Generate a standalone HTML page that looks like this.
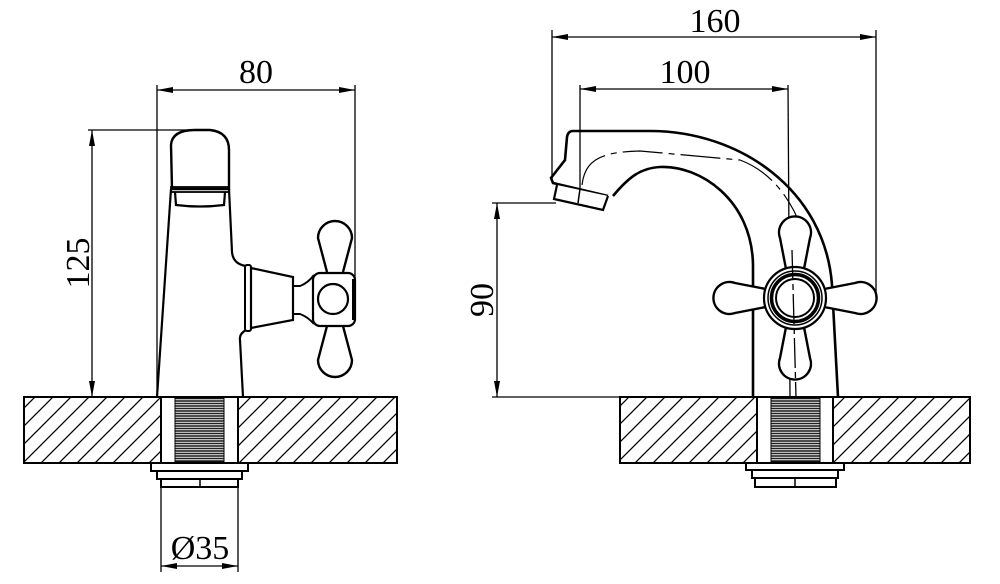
<!DOCTYPE html>
<html><head><meta charset="utf-8"><style>
html,body{margin:0;padding:0;background:#fff;}
svg{display:block;}
text{font-family:"Liberation Serif",serif;font-size:34px;fill:#000;}
</style></head><body>
<svg width="1000" height="584" viewBox="0 0 1000 584" xmlns="http://www.w3.org/2000/svg">
<defs>
<pattern id="h" patternUnits="userSpaceOnUse" width="18" height="18">
<path d="M-1,19 L19,-1 M-1,1 L1,-1 M17,19 L19,17" stroke="#000" stroke-width="1.3"/>
</pattern>
<pattern id="t" patternUnits="userSpaceOnUse" width="10" height="2.5">
<rect width="10" height="2.5" fill="#fff"/>
<line x1="0" y1="1" x2="10" y2="1" stroke="#222" stroke-width="1.6"/>
</pattern>
<marker id="a" viewBox="0 0 16 6" refX="16" refY="3" markerWidth="16" markerHeight="6" markerUnits="userSpaceOnUse" orient="auto-start-reverse">
<path d="M0,0 L16,3 L0,6 Z" fill="#000"/>
</marker>
<g id="blade">
<path d="M0,-8 L36,-15 A16 16 0 1 1 36,15 L0,8" fill="#fff" stroke="#000" stroke-width="2.4"/>
</g>
</defs>

<g fill="none" stroke="#000">
<rect x="24" y="397" width="137" height="66" fill="url(#h)" stroke-width="2"/>
<rect x="238" y="397" width="159" height="66" fill="url(#h)" stroke-width="2"/>
<rect x="161" y="397" width="77" height="66" fill="#fff" stroke-width="2"/>
<rect x="175" y="398" width="49" height="64" fill="url(#t)" stroke="#000" stroke-width="1"/>
<rect x="151" y="463" width="97" height="8" stroke-width="2" fill="#fff"/>
<rect x="157" y="471" width="85" height="8" stroke-width="2" fill="#fff"/>
<rect x="161" y="479" width="77" height="8" stroke-width="2" fill="#fff"/>
<line x1="200" y1="479" x2="200" y2="487" stroke-width="1.5"/>
<path d="M157,397 L171,189" stroke-width="2.2"/>
<path d="M229,189 L232,252 Q233,264 246,266" stroke-width="2.2"/>
<path d="M246,330 Q239,334 240,340 L243,397" stroke-width="2.2"/>
<path d="M172,189 L171,145 Q172,130 195,130 L210,130 Q229,132 229,150 L229,189 Z" stroke-width="2.4" fill="#fff"/>
<rect x="171" y="187" width="58" height="5" stroke-width="1.8"/>
<path d="M175,192 L176,205 Q200,208 224,205 L225,192" stroke-width="2.2"/>
<rect x="245" y="265" width="6" height="66" rx="2" stroke-width="2" fill="#fff"/>
<path d="M251,268 L293,277 L293,320 L251,328 Z" stroke-width="2.2" fill="#fff"/>
<path d="M293,286 L300,286 Q308,283 314,275 M293,314 L300,314 Q308,317 314,324" stroke-width="2"/>
<path d="M327,272 L318,238 A17 17 0 1 1 352,238 L343,272" stroke-width="2.4" fill="#fff"/>
<path d="M327,326 L318,360 A17 17 0 1 0 352,360 L343,326" stroke-width="2.4" fill="#fff"/>
<rect x="313" y="273" width="42" height="53" rx="7" stroke-width="2.2" fill="#fff"/>
<line x1="354" y1="279" x2="354" y2="320" stroke-width="4"/>
<circle cx="333" cy="299" r="15" stroke-width="2.2"/>
<line x1="157" y1="85" x2="157" y2="397" stroke-width="1.3"/>
<line x1="355" y1="85" x2="355" y2="292" stroke-width="1.3"/>
<line x1="157" y1="90" x2="355" y2="90" stroke-width="1.3" marker-start="url(#a)" marker-end="url(#a)"/>
<line x1="88" y1="130" x2="200" y2="130" stroke-width="1.3"/>
<line x1="92" y1="130" x2="92" y2="397" stroke-width="1.3" marker-start="url(#a)" marker-end="url(#a)"/>
<line x1="161" y1="487" x2="161" y2="572" stroke-width="1.3"/>
<line x1="238" y1="487" x2="238" y2="572" stroke-width="1.3"/>
<line x1="161" y1="566" x2="238" y2="566" stroke-width="1.3" marker-start="url(#a)" marker-end="url(#a)"/>

<rect x="620" y="397" width="137" height="66" fill="url(#h)" stroke-width="2"/>
<rect x="833" y="397" width="137" height="66" fill="url(#h)" stroke-width="2"/>
<rect x="757" y="397" width="76" height="66" fill="#fff" stroke-width="2"/>
<rect x="771" y="398" width="49" height="64" fill="url(#t)" stroke="#000" stroke-width="1"/>
<rect x="746" y="463" width="98" height="7" stroke-width="2" fill="#fff"/>
<rect x="752" y="470" width="86" height="8" stroke-width="2" fill="#fff"/>
<rect x="755" y="478" width="81" height="9" stroke-width="2" fill="#fff"/>
<line x1="795" y1="478" x2="795" y2="487" stroke-width="1.5"/>
<path d="M753,397 L753,265 C752,200 700,165 660,167 C640,168 628,178 613,196" stroke-width="2.6"/>
<path d="M838,397 L832,285 C825,190 740,131 650,131 L573,131 Q568,131 567,137 L565,160 L551,178 L553,183 L608,196" stroke-width="2.6"/>
<path d="M557,185 L554,199 L603,210 L608,196" stroke-width="2.2" fill="#fff"/>
<line x1="580" y1="189" x2="578" y2="203" stroke-width="1.5"/>
<path d="M582,185 C585,160 600,152 640,151 L740,160 C780,175 800,215 808,250" stroke-width="1.2" stroke-dasharray="40 6 6 6"/>
<line x1="788" y1="85" x2="790" y2="397" stroke-width="1.3"/>
<g transform="translate(795,298)">
<use href="#blade" transform="rotate(-90) translate(24,0)"/>
<use href="#blade" transform="rotate(90) translate(24,0)"/>
<use href="#blade" transform="rotate(180) translate(24,0)"/>
<use href="#blade" transform="translate(24,0)"/>
<circle r="31" stroke-width="2.2" fill="#fff"/>
<circle r="27" stroke-width="1.5"/>
<circle r="23.5" stroke-width="3.5"/>
<circle r="19" stroke-width="2"/>
</g>
<line x1="792" y1="250" x2="796" y2="397" stroke-width="1.3" stroke-dasharray="30 4 6 4"/>
<line x1="552" y1="30" x2="552" y2="180" stroke-width="1.3"/>
<line x1="876" y1="30" x2="876" y2="297" stroke-width="1.3"/>
<line x1="552" y1="37" x2="876" y2="37" stroke-width="1.3" marker-start="url(#a)" marker-end="url(#a)"/>
<line x1="580" y1="85" x2="580" y2="190" stroke-width="1.3"/>
<line x1="580" y1="89" x2="788" y2="89" stroke-width="1.3" marker-start="url(#a)" marker-end="url(#a)"/>
<line x1="492" y1="203" x2="556" y2="203" stroke-width="1.3"/>
<line x1="492" y1="397" x2="620" y2="397" stroke-width="1.3"/>
<line x1="497" y1="203" x2="497" y2="397" stroke-width="1.3" marker-start="url(#a)" marker-end="url(#a)"/>
</g>

<text x="256" y="83" text-anchor="middle">80</text>
<text x="200" y="559" text-anchor="middle">Ø35</text>
<text x="715" y="32" text-anchor="middle">160</text>
<text x="685" y="83" text-anchor="middle">100</text>
<text transform="translate(89,263) rotate(-90)" text-anchor="middle">125</text>
<text transform="translate(493,300) rotate(-90)" text-anchor="middle">90</text>
</svg>
</body></html>
